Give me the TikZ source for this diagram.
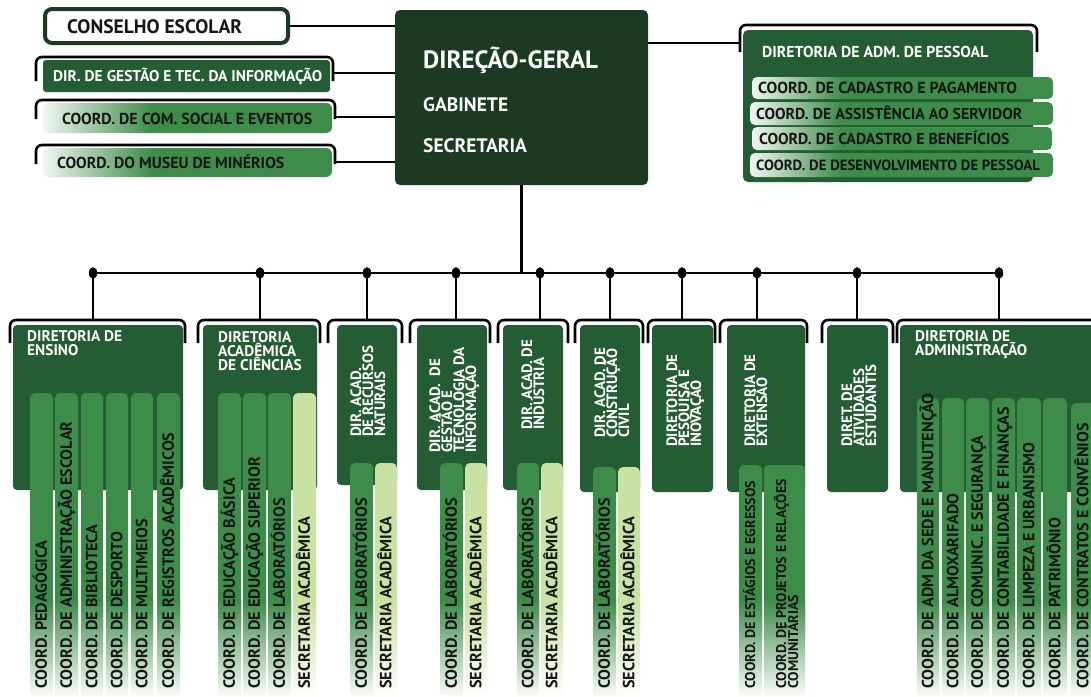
\documentclass[tikz,border=0pt]{standalone}
\usepackage{fontspec}
\setmainfont{PT Sans}
\usetikzlibrary{calc}
\definecolor{dgreen}{HTML}{1B3A21}
\definecolor{mgreen}{HTML}{245C33}
\definecolor{cgreen}{HTML}{3E8C4A}
\definecolor{lgreen}{HTML}{C9E1A3}
\definecolor{ink}{HTML}{161616}
\pgfdeclarehorizontalshading{fadeA}{100bp}{color(0bp)=(white); color(25bp)=(white!92!cgreen); color(44bp)=(cgreen); color(100bp)=(cgreen)}
\pgfdeclarehorizontalshading{fadeB}{100bp}{color(0bp)=(white); color(25bp)=(white!92!cgreen); color(40bp)=(cgreen); color(100bp)=(cgreen)}
\newcommand\fntCol{\fontsize{16.2}{16.2}\selectfont\bfseries}
\newcommand\fntColS{\fontsize{14.1}{14.1}\selectfont\bfseries}
\newcommand\fntTit{\fontsize{15.4}{15.4}\selectfont\bfseries}
\newcommand\fntVt{\fontsize{15}{15}\selectfont\bfseries}
\newcommand\fntSm{\fontsize{15.9}{15.9}\selectfont\bfseries}
\newcommand\fntCons{\fontsize{19.5}{19.5}\selectfont\bfseries}
\newcommand\fntDG{\fontsize{25}{25}\selectfont\bfseries}
\newcommand\fntGab{\fontsize{19.5}{19.5}\selectfont\bfseries}
% column: name, x1, x2, ytop, colour, text
\newcommand\colbar[6]{%
  \fill[#5, rounded corners=5pt] (#2,#4) rectangle (#3,640);
  \shade[top color=#5, bottom color=#5!5!white] (#2,600) rectangle (#3,694);
  \node[ct] (#1) at ({(#2+#3)/2+5.4},689) {#6};
}
% bracket: x1, x2, ytop, ybottom
\newcommand\brkt[4]{\draw[brk] (#1,#4) |- ({(#1+#2)/2},#3) -| (#2,#4);}
\begin{document}
\begin{tikzpicture}[x=1pt,y=-1pt,
  brk/.style={line width=2.6pt, rounded corners=6pt},
  conn/.style={line width=2.2pt},
  box/.style={inner sep=0pt, outer sep=0pt},
  vt/.style={rotate=90, anchor=base west, inner sep=0pt, text=white, font=\fntVt},
  ht/.style={anchor=base west, inner sep=0pt, text=white, font=\fntTit},
  ct/.style={rotate=90, anchor=base west, inner sep=0pt, text=ink, font=\fntCol},
  st/.style={anchor=base west, inner sep=0pt, text=ink, font=\fntSm},
]
\useasboundingbox (0,0) rectangle (1091,696);
\clip (0,0) rectangle (1091,696);

% ---------- main box ----------
\node[box, fill=dgreen, rounded corners=5pt, minimum width=253pt, minimum height=175pt] (dg) at (521.5,97.5) {};
\node[ht, font=\fntDG] (dgt) at (423,68) {DIREÇÃO-GERAL};
\node[ht, font=\fntGab] (gab) at (423,111) {GABINETE};
\node[ht, font=\fntGab] (sec) at (423,152) {SECRETARIA};

% ---------- left column ----------
\node[box, fill=white, draw=dgreen, line width=4pt, rounded corners=7pt, minimum width=243pt, minimum height=34pt] (cons) at (166.5,26) {};
\node[st, font=\fntCons] (const) at (67,33) {CONSELHO ESCOLAR};
\draw[conn] (cons.east) -- (cons.east -| dg.west);

\node[box, fill=mgreen, rounded corners=3pt, minimum width=287pt, minimum height=32pt] (gti) at (186.5,76) {};
\node[st, text=white, font=\fontsize{15.5}{15.5}\selectfont\bfseries] (gtit) at (53,81.5) {DIR. DE GESTÃO E TEC. DA INFORMAÇÃO};
\brkt{36}{333}{57}{81}
\coordinate (gtiR) at (333,73);
\draw[conn] (gtiR) -- (gtiR -| dg.west);

\node[box, shading=fadeA, rounded corners=6pt, minimum width=289pt, minimum height=30pt] (com) at (187.5,118) {};
\node[st] (comt) at (62,124) {COORD. DE COM. SOCIAL E EVENTOS};
\brkt{36}{335}{100}{119}
\coordinate (comR) at (335,117);
\draw[conn] (comR) -- (comR -| dg.west);

\node[box, shading=fadeA, rounded corners=6pt, minimum width=289pt, minimum height=29pt] (mus) at (187.5,162.5) {};
\node[st] (must) at (57,168.5) {COORD. DO MUSEU DE MINÉRIOS};
\brkt{36}{335}{145}{164}
\coordinate (musR) at (335,162);
\draw[conn] (musR) -- (musR -| dg.west);

% ---------- right: pessoal ----------
\node[box, fill=mgreen, rounded corners=5pt, minimum width=290pt, minimum height=152pt] (adm) at (888,106) {};
\node[ht, font=\fontsize{15.8}{15.8}\selectfont\bfseries] (admt) at (762,57) {DIRETORIA DE ADM. DE PESSOAL};
\brkt{740}{1037}{25}{52}
\coordinate (admL) at (740,43);
\draw[conn] (admL -| dg.east) -- (admL);
\node[box, shading=fadeB, rounded corners=5pt, minimum width=301pt, minimum height=22pt] (ps1) at (902.5,88) {};
\node[st, font=\fontsize{16}{16}\selectfont\bfseries] (ps1t) at (758,93.5) {COORD. DE CADASTRO E PAGAMENTO};
\node[box, shading=fadeB, rounded corners=5pt, minimum width=303pt, minimum height=23pt] (ps2) at (901.5,113.5) {};
\node[st, font=\fontsize{15.8}{15.8}\selectfont\bfseries] (ps2t) at (756,119) {COORD. DE ASSISTÊNCIA AO SERVIDOR};
\node[box, shading=fadeB, rounded corners=5pt, minimum width=300pt, minimum height=23pt] (ps3) at (902,138.5) {};
\node[st, font=\fontsize{15.8}{15.8}\selectfont\bfseries] (ps3t) at (759,144) {COORD. DE CADASTRO E BENEFÍCIOS};
\node[box, shading=fadeB, rounded corners=5pt, minimum width=303pt, minimum height=24pt] (ps4) at (901.5,165) {};
\node[st, font=\fontsize{14.8}{14.8}\selectfont\bfseries] (ps4t) at (756,170.5) {COORD. DE DESENVOLVIMENTO DE PESSOAL};

% ---------- bus ----------
\foreach \i/\x in {1/93,2/260,3/367,4/456,5/540,6/610,7/682,8/757,9/857,10/999}{
  \coordinate (bus\i) at (\x,273);
  \coordinate (top\i) at (\x,320);
}
\draw[conn] (dg.south) -- (dg.south |- bus1);
\draw[line width=2.6pt] (bus1) -- (bus10);
\foreach \i in {1,...,10}{
  \draw[conn] (bus\i) -- (top\i);
  \fill (bus\i) ellipse (4.2 and 5.8);
}

% ---------- directorate boxes ----------
\brkt{10}{185}{320}{343}
\brkt{198}{320}{320}{343}
\brkt{328}{402}{320}{343}
\brkt{410}{490}{320}{343}
\brkt{498}{568}{320}{343}
\brkt{575}{643}{320}{343}
\brkt{648}{715}{320}{343}
\brkt{720}{807}{320}{343}
\brkt{822}{893}{320}{343}
\brkt{897}{1120}{320}{343}

\node[box, fill=mgreen, rounded corners=4pt, minimum width=170pt, minimum height=165pt, anchor=north west] (d1) at (13,325) {};
\node[box, fill=mgreen, rounded corners=4pt, minimum width=114pt, minimum height=165pt, anchor=north west] (d2) at (203,325) {};
\node[box, fill=mgreen, rounded corners=4pt, minimum width=60pt, minimum height=160pt, anchor=north west] (d3) at (337,325) {};
\node[box, fill=mgreen, rounded corners=4pt, minimum width=70pt, minimum height=165pt, anchor=north west] (d4) at (417,325) {};
\node[box, fill=mgreen, rounded corners=4pt, minimum width=60pt, minimum height=165pt, anchor=north west] (d5) at (503,325) {};
\node[box, fill=mgreen, rounded corners=4pt, minimum width=60pt, minimum height=167pt, anchor=north west] (d6) at (580,325) {};
\node[box, fill=mgreen, rounded corners=4pt, minimum width=61pt, minimum height=167pt, anchor=north west] (d7) at (652,325) {};
\node[box, fill=mgreen, rounded corners=4pt, minimum width=78pt, minimum height=167pt, anchor=north west] (d8) at (727,325) {};
\node[box, fill=mgreen, rounded corners=4pt, minimum width=61pt, minimum height=167pt, anchor=north west] (d9) at (827,325) {};
\node[box, fill=mgreen, rounded corners=4pt, minimum width=220pt, minimum height=167pt, anchor=north west] (d10) at (900,325) {};

% titles
\node[ht] (d1a) at (27,341) {DIRETORIA DE};
\node[ht] (d1b) at (27,355) {ENSINO};
\node[ht] (d2a) at (218,342.5) {DIRETORIA};
\node[ht] (d2b) at (218,356.5) {ACADÊMICA};
\node[ht] (d2c) at (218,370) {DE CIÊNCIAS};
\node[vt] (d3a) at (361,437) {DIR. ACAD.};
\node[vt] (d3b) at (373,437) {DE RECURSOS};
\node[vt] (d3c) at (385,437) {NATURAIS};
\node[vt] (d4a) at (440,453) {DIR. ACAD.\ \ DE};
\node[vt] (d4b) at (452,453) {GESTÃO E};
\node[vt] (d4c) at (464,453) {TECNOLOGIA DA};
\node[vt] (d4d) at (476,453) {INFORMAÇÃO};
\node[vt] (d5a) at (532,430) {DIR. ACAD. DE};
\node[vt] (d5b) at (544,430) {INDÚSTRIA};
\node[vt] (d6a) at (605,438) {DIR. ACAD. DE};
\node[vt] (d6b) at (617,438) {CONSTRUÇÃO};
\node[vt] (d6c) at (629,438) {CIVIL};
\node[vt] (d7a) at (677,447) {DIRETORIA DE};
\node[vt] (d7b) at (689,447) {PESQUISA E};
\node[vt] (d7c) at (701,447) {INOVAÇÃO};
\node[vt] (d8a) at (755,447) {DIRETORIA DE};
\node[vt] (d8b) at (767,447) {EXTENSÃO};
\node[vt] (d9a) at (852,447) {DIRET. DE};
\node[vt] (d9b) at (864,447) {ATIVIDADES};
\node[vt] (d9c) at (876,447) {ESTUDANTIS};
\node[ht] (d10a) at (915,341) {DIRETORIA DE};
\node[ht] (d10b) at (915,355) {ADMINISTRAÇÃO};

% ---------- columns ----------
\colbar{c11}{30}{53}{393}{cgreen}{COORD. PEDAGÓGICA}
\colbar{c12}{55}{78}{393}{cgreen}{COORD. DE ADMINISTRAÇÃO ESCOLAR}
\colbar{c13}{81}{103}{393}{cgreen}{COORD. DE BIBLIOTECA}
\colbar{c14}{106}{128}{393}{cgreen}{COORD. DE DESPORTO}
\colbar{c15}{131}{153}{393}{cgreen}{COORD. DE MULTIMEIOS}
\colbar{c16}{157}{180}{393}{cgreen}{COORD. DE REGISTROS ACADÊMICOS}
\colbar{c21}{218}{241}{393}{cgreen}{COORD. DE EDUCAÇÃO BÁSICA}
\colbar{c22}{243}{266}{393}{cgreen}{COORD. DE EDUCAÇÃO SUPERIOR}
\colbar{c23}{268}{291}{393}{cgreen}{COORD. DE LABORATÓRIOS}
\colbar{c24}{293}{316}{393}{lgreen}{SECRETARIA ACADÊMICA}
\colbar{c31}{350}{373}{463}{cgreen}{COORD. DE LABORATÓRIOS}
\colbar{c32}{375}{397}{463}{lgreen}{SECRETARIA ACADÊMICA}
\colbar{c41}{440}{463}{463}{cgreen}{COORD. DE LABORATÓRIOS}
\colbar{c42}{465}{487}{463}{lgreen}{SECRETARIA ACADÊMICA}
\colbar{c51}{517}{539}{463}{cgreen}{COORD. DE LABORATÓRIOS}
\colbar{c52}{541}{563}{463}{lgreen}{SECRETARIA ACADÊMICA}
\colbar{c61}{593}{616}{467}{cgreen}{COORD. DE LABORATÓRIOS}
\colbar{c62}{618}{640}{467}{lgreen}{SECRETARIA ACADÊMICA}
\colbar{c81}{739}{762}{465}{cgreen}{}
\node[ct, font=\fntColS] (c81t) at (755,689) {COORD. DE ESTÁGIOS E EGRESSOS};
\colbar{c82}{764}{805}{465}{cgreen}{}
\node[ct, font=\fntColS] (c82a) at (786,689) {COORD. DE PROJETOS E RELAÇÕES};
\node[ct, font=\fntColS] (c82b) at (798,689) {COMUNITÁRIAS};
\colbar{c101}{917}{939}{398}{cgreen}{COORD. DE ADM DA SEDE E MANUTENÇÃO}
\colbar{c102}{942}{964}{398}{cgreen}{COORD. DE ALMOXARIFADO}
\colbar{c103}{966}{989}{398}{cgreen}{COORD. DE COMUNIC. E SEGURANÇA}
\colbar{c104}{992}{1015}{398}{cgreen}{COORD. DE CONTABILIDADE E FINANÇAS}
\colbar{c105}{1017}{1041}{398}{cgreen}{COORD. DE LIMPEZA E URBANISMO}
\colbar{c106}{1043}{1067}{398}{cgreen}{COORD. DE PATRIMÔNIO}
\colbar{c107}{1071}{1095}{403}{cgreen}{COORD. DE CONTRATOS E CONVÊNIOS}
\end{tikzpicture}
\end{document}
